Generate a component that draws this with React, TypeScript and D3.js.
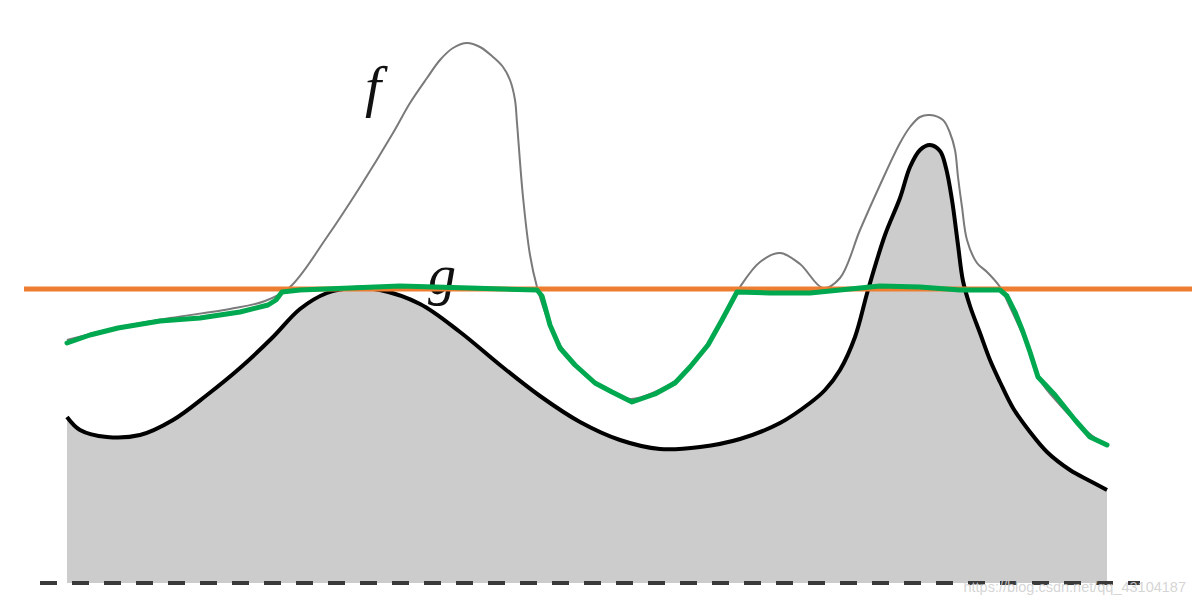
import React from "react";
import * as d3 from "d3";

// Curve g (thick black, filled below)
const gX = [0, 1.3, 4.0, 7.3, 10.6, 14.0, 17.3, 20.6, 23.3, 26.0, 28.5, 31.3, 35.3, 39.3, 43.3, 47.3, 51.3, 55.3, 59.3, 63.3, 67.3, 71.3, 74.3, 75.8, 77.3, 78.8, 80.1, 81.8, 83.3, 84.3, 85.3, 86.3, 87.3, 87.9, 88.5, 89.1, 89.6, 90.3, 91.3, 92.3, 93.3, 94.6, 96.3, 98.0, 100.3, 102.3, 104];
const gY = [16.6, 15.3, 14.6, 14.8, 16.3, 18.8, 21.5, 24.6, 27.4, 29.0, 29.5, 29.3, 27.9, 25.1, 21.8, 18.7, 16.1, 14.3, 13.4, 13.6, 14.4, 16.0, 18.0, 19.3, 21.3, 24.6, 29.3, 34.8, 38.5, 41.6, 43.3, 43.8, 43.2, 41.5, 38.3, 33.8, 30.2, 27.7, 25.0, 22.3, 20.1, 17.5, 15.1, 13.1, 11.3, 10.2, 9.3];

// Curve f (thin grey)
const fX = [0, 5.3, 10.3, 16.3, 19.8, 22.3, 26.0, 29.3, 32.6, 34.3, 36.0, 37.3, 38.6, 40.0, 41.3, 42.6, 43.6, 44.3, 44.8, 45.0, 45.6, 46.3, 47.0, 48.1, 49.3, 51.3, 53.8, 56.3, 58.8, 61.3, 64.3, 67.3, 69.3, 71.3, 73.3, 75.6, 77.3, 79.3, 81.3, 83.3, 84.3, 85.3, 86.3, 87.6, 88.3, 88.8, 89.1, 89.5, 90.0, 91.0, 92.0, 93.3, 94.3, 95.8, 97.3, 99.3, 101.8, 103.8];
const fY = [24.3, 25.6, 26.5, 27.4, 28.2, 29.6, 34.6, 39.6, 45.0, 48.0, 50.5, 52.3, 53.5, 54.0, 53.6, 52.6, 51.6, 50.3, 48.3, 46.0, 38.6, 32.8, 29.6, 26.3, 23.8, 21.3, 19.5, 18.4, 19.1, 20.6, 24.3, 29.6, 32.1, 33.0, 31.9, 29.5, 30.5, 35.3, 39.8, 44.0, 45.6, 46.6, 46.8, 46.3, 45.0, 43.3, 40.6, 37.6, 34.3, 32.0, 31.1, 29.6, 27.6, 24.3, 20.3, 17.8, 15.3, 13.8];

// Hand-drawn green line
const hX = [0, 2.3, 5.1, 9.3, 13.3, 17.3, 20.1, 20.9, 21.5, 23.3, 28.3, 33.3, 40.3, 47.0, 47.5, 48.3, 49.3, 50.8, 52.8, 54.5, 56.5, 58.8, 60.8, 62.3, 64.1, 65.5, 67.0, 70.3, 74.3, 77.3, 81.3, 85.3, 89.3, 93.3, 94.0, 94.8, 95.6, 96.3, 97.1, 98.8, 100.8, 102.3, 104];
const hY = [24.0, 24.8, 25.5, 26.2, 26.5, 27.1, 27.8, 28.3, 29.1, 29.3, 29.5, 29.7, 29.5, 29.3, 28.7, 25.8, 23.5, 21.8, 20.0, 19.1, 18.1, 18.9, 20.0, 21.6, 23.8, 26.3, 29.1, 29.0, 29.0, 29.3, 29.7, 29.6, 29.3, 29.3, 28.7, 27.1, 25.1, 23.1, 20.6, 18.8, 16.3, 14.6, 13.8];

// Orange threshold level and extents
const levelY = 29.4;
const levelExtent = [-4.3, 112.5];
const baseExtent = [-2.7, 107.3];

const labels = [
  { text: "f", x: 30.6, y: 47.7, size: 58 },
  { text: "g", x: 37.5, y: 28.9, size: 56 },
];

const watermark = "https://blog.csdn.net/qq_43104187";

const W = 1196;
const H = 606;

export default function App() {
  const x = d3.scaleLinear().domain([0, 104]).range([67, 1107]);
  const y = d3.scaleLinear().domain([0, 55]).range([583, 33]);

  const gPts: [number, number][] = gX.map((v, i) => [v, gY[i]]);
  const fPts: [number, number][] = fX.map((v, i) => [v, fY[i]]);
  const hPts: [number, number][] = hX.map((v, i) => [v, hY[i]]);

  const curve = d3.curveCatmullRom.alpha(0.5);
  const line = d3
    .line<[number, number]>()
    .x((d) => x(d[0]))
    .y((d) => y(d[1]))
    .curve(curve);
  const area = d3
    .area<[number, number]>()
    .x((d) => x(d[0]))
    .y0(y(0))
    .y1((d) => y(d[1]))
    .curve(curve);
  const hline = d3
    .line<[number, number]>()
    .x((d) => x(d[0]))
    .y((d) => y(d[1]))
    .curve(d3.curveLinear);

  return (
    <svg
      width={W}
      height={H}
      style={{ position: "absolute", left: 0, top: 0, background: "#fff" }}
    >
      <rect width={W} height={H} fill="#fff" />
      <path d={area(gPts) || ""} fill="#cccccc" />
      <line
        x1={x(baseExtent[0])}
        x2={x(baseExtent[1])}
        y1={y(0)}
        y2={y(0)}
        stroke="#3a3a3a"
        strokeWidth={4}
        strokeDasharray="17 15"
      />
      <path d={line(fPts) || ""} fill="none" stroke="#7a7a7a" strokeWidth={2} />
      <path d={line(gPts) || ""} fill="none" stroke="#000" strokeWidth={4} />
      {labels.map((l) => (
        <text
          key={l.text}
          x={x(l.x)}
          y={y(l.y)}
          fontFamily="'Liberation Serif', 'DejaVu Serif', serif"
          fontStyle="italic"
          fontSize={l.size}
          textAnchor="middle"
          fill="#111"
        >
          {l.text}
        </text>
      ))}
      <line
        x1={x(levelExtent[0])}
        x2={x(levelExtent[1])}
        y1={y(levelY)}
        y2={y(levelY)}
        stroke="#ed7d31"
        strokeWidth={5}
      />
      <path
        d={hline(hPts) || ""}
        fill="none"
        stroke="#00a84f"
        strokeWidth={5}
        strokeLinejoin="round"
        strokeLinecap="round"
      />
      <text
        x={1186}
        y={592}
        textAnchor="end"
        fontFamily="'Liberation Sans', Arial, sans-serif"
        fontSize={14.5}
        fill="#d0d0d0"
        fillOpacity={0.9}
      >
        {watermark}
      </text>
    </svg>
  );
}
